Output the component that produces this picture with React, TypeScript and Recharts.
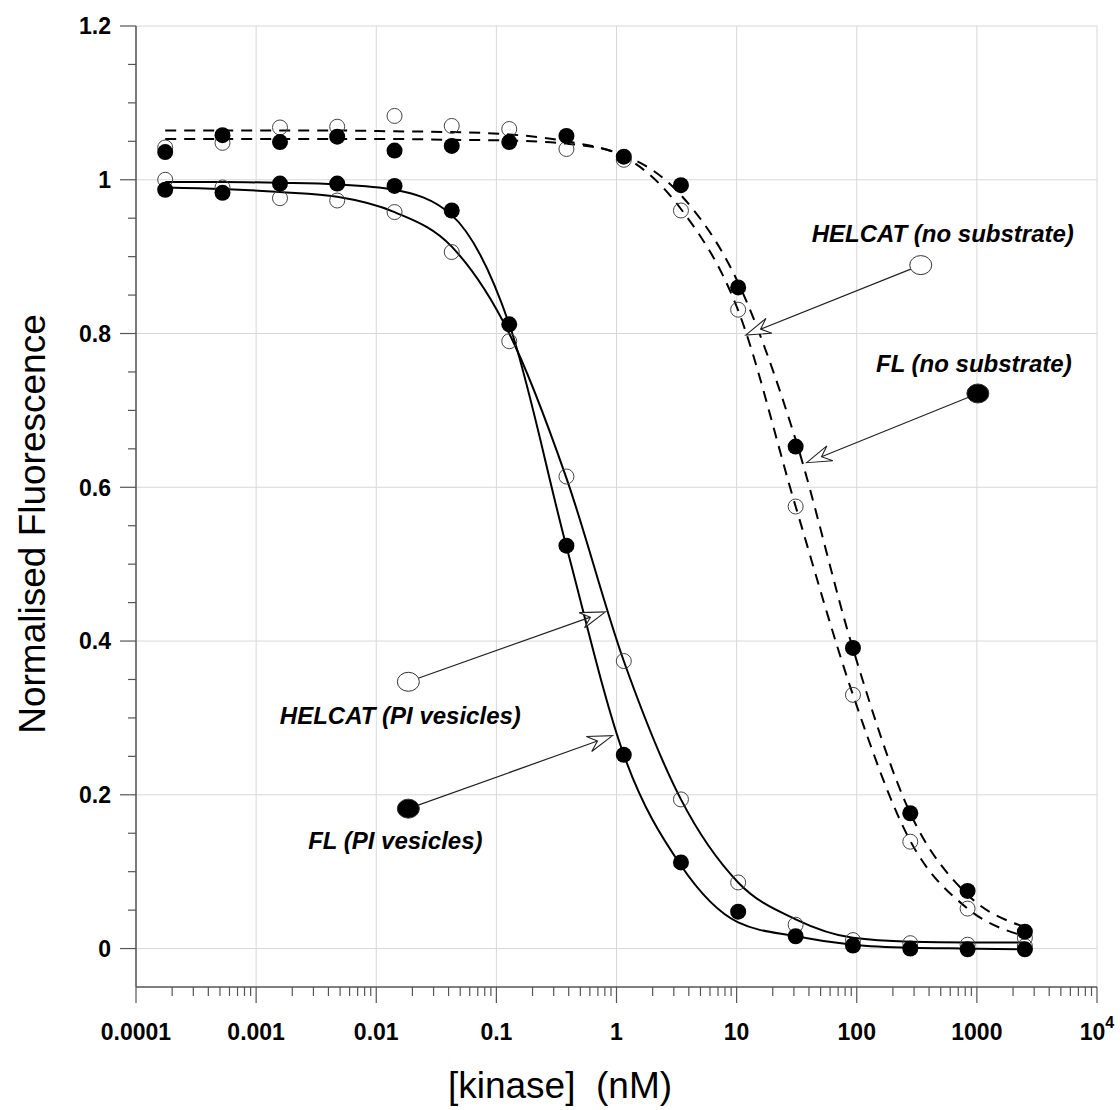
import React from "react";
import {
  ComposedChart,
  Line,
  Scatter,
  XAxis,
  YAxis,
  CartesianGrid,
  ReferenceLine,
} from "recharts";

// [kinase] in nM, 3-fold dilution series
const conc = [
  0.000175, 0.000525, 0.00158, 0.00473, 0.0142, 0.0425, 0.128, 0.383, 1.15,
  3.44, 10.3, 31.0, 93.0, 279, 837, 2510,
];

// measured points
const flPiPts = [
  0.987, 0.983, 0.995, 0.995, 0.992, 0.96, 0.812, 0.524, 0.252, 0.112, 0.048,
  0.016, 0.004, 0.0, -0.001, -0.001,
];
const helcatPiPts = [
  1.0, 0.99, 0.976, 0.973, 0.958, 0.906, 0.79, 0.614, 0.374, 0.194, 0.086,
  0.031, 0.011, 0.007, 0.005, 0.003,
];
const flNoSubPts = [
  1.036, 1.058, 1.049, 1.056, 1.038, 1.044, 1.049, 1.057, 1.03, 0.993, 0.86,
  0.653, 0.391, 0.176, 0.075, 0.022,
];
const helcatNoSubPts = [
  1.042, 1.048, 1.068, 1.069, 1.083, 1.07, 1.066, 1.04, 1.026, 0.96, 0.831,
  0.575, 0.33, 0.139, 0.052, 0.014,
];

// fitted curves, read at the same concentrations
const flPiFit = [
  0.997, 0.997, 0.996, 0.994, 0.987, 0.954, 0.812, 0.523, 0.252, 0.108, 0.034,
  0.016, 0.005, 0.001, 0.0, -0.001,
];
const helcatPiFit = [
  0.99, 0.988, 0.984, 0.978, 0.958, 0.913, 0.8, 0.612, 0.374, 0.194, 0.086,
  0.038, 0.014, 0.009, 0.008, 0.008,
];
const flNoSubFit = [
  1.053, 1.053, 1.053, 1.053, 1.053, 1.052, 1.051, 1.047, 1.032, 0.98, 0.866,
  0.662, 0.39, 0.176, 0.07, 0.028,
];
const helcatNoSubFit = [
  1.064, 1.064, 1.064, 1.064, 1.063, 1.062, 1.059, 1.05, 1.03, 0.962, 0.83,
  0.575, 0.33, 0.14, 0.052, 0.016,
];

const xMajor = [0.0001, 0.001, 0.01, 0.1, 1, 10, 100, 1000, 10000];
const xLabels = ["0.0001", "0.001", "0.01", "0.1", "1", "10", "100", "1000", "10^4"];
const yTicks = [
  0, 0.05, 0.1, 0.15, 0.2, 0.25, 0.3, 0.35, 0.4, 0.45, 0.5, 0.55, 0.6, 0.65,
  0.7, 0.75, 0.8, 0.85, 0.9, 0.95, 1, 1.05, 1.1, 1.15, 1.2,
];
const yMajor = [0, 0.2, 0.4, 0.6, 0.8, 1, 1.2];
const yLabels = ["0", "0.2", "0.4", "0.6", "0.8", "1", "1.2"];

// callouts: marker position -> arrow tip, in data units
const notes = [
  { text: "HELCAT (no substrate)", filled: false, from: { x: 341, y: 0.889 }, to: { x: 11.9, y: 0.798 }, dx: 22, dy: -23 },
  { text: "FL (no substrate)", filled: true, from: { x: 1019, y: 0.722 }, to: { x: 38.3, y: 0.632 }, dx: -4, dy: -21 },
  { text: "HELCAT (PI vesicles)", filled: false, from: { x: 0.0185, y: 0.347 }, to: { x: 0.809, y: 0.438 }, dx: -8, dy: 42 },
  { text: "FL (PI vesicles)", filled: true, from: { x: 0.0185, y: 0.182 }, to: { x: 0.927, y: 0.277 }, dx: -13, dy: 40 },
];

const FONT = "'Liberation Sans', Arial, sans-serif";

const xTicks: number[] = [];
xMajor.forEach((d, i) => {
  xTicks.push(d);
  if (i < xMajor.length - 1) for (let m = 2; m <= 9; m++) xTicks.push(m * d);
});

const zip = (ys: number[]) => conc.map((x, i) => ({ x, y: ys[i] }));

function XTick(props: any) {
  const { x, y, payload } = props;
  const i = xMajor.indexOf(payload.value);
  if (i < 0) return <line x1={x} y1={y} x2={x} y2={y + 9} stroke="#555" strokeWidth={1.2} />;
  const lab = xLabels[i];
  return (
    <g>
      <line x1={x} y1={y} x2={x} y2={y + 16} stroke="#555" strokeWidth={1.2} />
      {lab === "10^4" ? (
        <text x={x} y={y + 53} textAnchor="middle" fontFamily={FONT} fontWeight="bold" fontSize={23} fill="#000">
          10<tspan dy={-12} fontSize={16}>4</tspan>
        </text>
      ) : (
        <text x={x} y={y + 53} textAnchor="middle" fontFamily={FONT} fontWeight="bold" fontSize={23} fill="#000">
          {lab}
        </text>
      )}
    </g>
  );
}

function YTick(props: any) {
  const { x, y, payload } = props;
  const i = yMajor.indexOf(payload.value);
  if (i < 0) return <line x1={x} y1={y} x2={x - 8} y2={y} stroke="#555" strokeWidth={1.2} />;
  return (
    <g>
      <line x1={x} y1={y} x2={x - 16} y2={y} stroke="#555" strokeWidth={1.2} />
      <text x={x - 25} y={y} dy="0.36em" textAnchor="end" fontFamily={FONT} fontWeight="bold" fontSize={23} fill="#000">
        {yLabels[i]}
      </text>
    </g>
  );
}

function Callout(props: any) {
  const { x1, y1, x2, y2, note } = props;
  if (x1 == null || x2 == null) return null;
  const len = Math.hypot(x2 - x1, y2 - y1);
  const ux = (x2 - x1) / len;
  const uy = (y2 - y1) / len;
  const nx = -uy;
  const ny = ux;
  const L = 25;
  const W = 8;
  const bx = x2 - L * ux;
  const by = y2 - L * uy;
  const kx = x2 - 16 * ux;
  const ky = y2 - 16 * uy;
  const head = `${x2},${y2} ${bx + W * nx},${by + W * ny} ${kx},${ky} ${bx - W * nx},${by - W * ny}`;
  return (
    <g>
      <line x1={x1} y1={y1} x2={kx} y2={ky} stroke="#222" strokeWidth={1.2} />
      <polygon points={head} fill="#fff" stroke="#222" strokeWidth={1.1} strokeLinejoin="miter" />
      <ellipse cx={x1} cy={y1} rx={11} ry={9.5} fill={note.filled ? "#000" : "#fff"} stroke="#333" strokeWidth={1} />
      <text x={x1 + note.dx} y={y1 + note.dy} textAnchor="middle" fontFamily={FONT} fontWeight="bold" fontStyle="italic" fontSize={24} fill="#000">
        {note.text}
      </text>
    </g>
  );
}

const openDot = (p: any) => (
  <circle cx={p.cx} cy={p.cy} r={7.5} fill="none" stroke="#444" strokeWidth={1} />
);
const filledDot = (p: any) => <circle cx={p.cx} cy={p.cy} r={8} fill="#000" />;

export default function App() {
  return (
    <div style={{ position: "absolute", left: 0, top: 0, width: 1120, height: 1110, background: "#fff" }}>
      <ComposedChart width={1120} height={1110} margin={{ top: 26, right: 23, bottom: 0, left: 0 }}>
        <CartesianGrid
          stroke="#d8d8d8"
          strokeWidth={1}
          horizontalValues={yMajor}
          verticalValues={xMajor}
        />
        <XAxis
          type="number"
          dataKey="x"
          scale="log"
          domain={[0.0001, 10000]}
          ticks={xTicks}
          interval={0}
          allowDataOverflow
          tickSize={0}
          tickMargin={0}
          tick={(p: any) => <XTick {...p} />}
          height={123}
          stroke="#555"
          strokeWidth={1.5}
        />
        <YAxis
          type="number"
          dataKey="y"
          domain={[-0.05, 1.2]}
          ticks={yTicks}
          interval={0}
          allowDataOverflow
          tickSize={0}
          tickMargin={0}
          tick={(p: any) => <YTick {...p} />}
          width={136}
          stroke="#555"
          strokeWidth={1.5}
        />
        <Scatter data={zip(helcatPiPts)} dataKey="y" shape={openDot} isAnimationActive={false} />
        <Scatter data={zip(helcatNoSubPts)} dataKey="y" shape={openDot} isAnimationActive={false} />
        <Line data={zip(flPiFit)} dataKey="y" type="monotone" stroke="#000" strokeWidth={2} dot={false} isAnimationActive={false} />
        <Line data={zip(helcatPiFit)} dataKey="y" type="monotone" stroke="#000" strokeWidth={2} dot={false} isAnimationActive={false} />
        <Line data={zip(flNoSubFit)} dataKey="y" type="monotone" stroke="#000" strokeWidth={2} strokeDasharray="11 8" dot={false} isAnimationActive={false} />
        <Line data={zip(helcatNoSubFit)} dataKey="y" type="monotone" stroke="#000" strokeWidth={2} strokeDasharray="11 8" dot={false} isAnimationActive={false} />
        <Scatter data={zip(flPiPts)} dataKey="y" shape={filledDot} isAnimationActive={false} />
        <Scatter data={zip(flNoSubPts)} dataKey="y" shape={filledDot} isAnimationActive={false} />
        {notes.map((n) => (
          <ReferenceLine
            key={n.text}
            segment={[n.from, n.to]}
            shape={(p: any) => <Callout {...p} note={n} />}
          />
        ))}
      </ComposedChart>
      <svg width={1120} height={1110} style={{ position: "absolute", left: 0, top: 0, pointerEvents: "none" }}>
        <text
          transform="translate(32,524) rotate(-90)"
          textAnchor="middle"
          dy="0.36em"
          fontFamily={FONT}
          fontSize={37}
          fill="#000"
        >
          Normalised Fluorescence
        </text>
        <text x={560} y={1098} textAnchor="middle" fontFamily={FONT} fontSize={37} fill="#000" style={{ whiteSpace: "pre" }}>
          {"[kinase]  (nM)"}
        </text>
      </svg>
    </div>
  );
}
